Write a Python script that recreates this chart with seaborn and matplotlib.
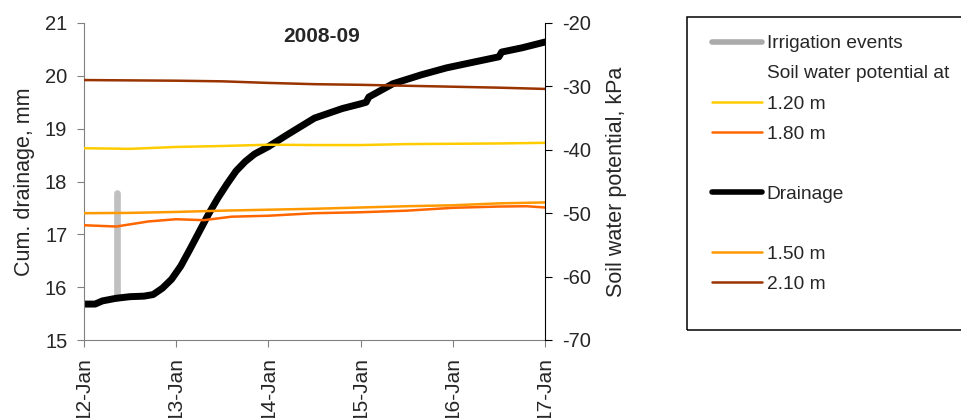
import pandas as pd
import seaborn as sns
import matplotlib.pyplot as plt
import matplotlib.dates as mdates
from matplotlib.lines import Line2D
from matplotlib.patches import Rectangle

start = pd.Timestamp("2009-01-12")

# cumulative drainage (mm), x in days after 12-Jan
drain_days = [0.0, 0.12, 0.2, 0.35, 0.5, 0.65, 0.75, 0.85, 0.95, 1.05, 1.15, 1.25,
              1.35, 1.45, 1.55, 1.65, 1.75, 1.85, 2.0, 2.2, 2.5, 2.8, 3.0, 3.06,
              3.09, 3.35, 3.66, 3.93, 4.2, 4.5, 4.53, 4.75, 5.0]
drain_mm = [15.68, 15.68, 15.74, 15.79, 15.82, 15.83, 15.86, 15.98, 16.15, 16.4, 16.72, 17.05,
            17.38, 17.68, 17.95, 18.2, 18.38, 18.52, 18.66, 18.88, 19.2, 19.38, 19.47, 19.5,
            19.6, 19.85, 20.02, 20.15, 20.25, 20.36, 20.45, 20.53, 20.64]

# irrigation event (drawn as a bar on the drainage axis)
irr_days = [0.36, 0.36]
irr_mm = [15.8, 17.78]

# soil water potential (kPa)
swp_days = [0.0, 0.5, 1.0, 1.5, 2.0, 2.5, 3.0, 3.5, 4.0, 4.5, 5.0]
swp_120 = [-39.75, -39.85, -39.55, -39.4, -39.2, -39.25, -39.25, -39.1, -39.05, -39.0, -38.9]
swp_150 = [-50.0, -49.95, -49.8, -49.6, -49.45, -49.3, -49.1, -48.9, -48.75, -48.45, -48.3]
swp_210 = [-29.0, -29.05, -29.1, -29.2, -29.45, -29.65, -29.75, -29.9, -30.05, -30.2, -30.4]
d180_days = [0.0, 0.35, 0.7, 1.0, 1.3, 1.6, 2.0, 2.5, 3.0, 3.5, 4.0, 4.5, 4.8, 5.0]
swp_180 = [-51.9, -52.1, -51.3, -50.95, -51.1, -50.55, -50.4, -50.0, -49.85, -49.6, -49.15,
           -48.95, -48.9, -49.1]

def to_dates(days):
    return start + pd.to_timedelta(days, unit="D")

sns.set_style("white")
plt.rcParams["font.family"] = ["Liberation Sans", "DejaVu Sans"]
plt.rcParams["axes.unicode_minus"] = False

fig = plt.figure(figsize=(9.62, 4.18), dpi=100)
ax = fig.add_axes([84/962, 1-340/418, (545-84)/962, (340-23)/418])
ax2 = ax.twinx()

sns.lineplot(x=to_dates(irr_days), y=irr_mm, ax=ax, color="#c0c0c0", lw=4.8,
             estimator=None, solid_capstyle="round")
sns.lineplot(x=to_dates(drain_days), y=drain_mm, ax=ax, color="black", lw=5)

sns.lineplot(x=to_dates(swp_days), y=swp_210, ax=ax2, color="#993300", lw=1.8)
sns.lineplot(x=to_dates(swp_days), y=swp_120, ax=ax2, color="#ffcc00", lw=1.8)
sns.lineplot(x=to_dates(swp_days), y=swp_150, ax=ax2, color="#ff9900", lw=1.8)
sns.lineplot(x=to_dates(d180_days), y=swp_180, ax=ax2, color="#ff6600", lw=1.8)

ax.set_xlim(start, start + pd.Timedelta(days=5))
ax.set_ylim(15, 21)
ax2.set_ylim(-70, -20)
ax.set_yticks(range(15, 22))
ax2.set_yticks(range(-70, -19, 10))
ax.xaxis.set_major_locator(mdates.DayLocator())
ax.xaxis.set_major_formatter(mdates.DateFormatter("%d-%b"))

for a in (ax, ax2):
    for s in a.spines.values():
        s.set_visible(False)
ax.spines["left"].set_visible(True)
ax.spines["bottom"].set_visible(True)
ax2.spines["right"].set_visible(True)
ax.spines["left"].set_color("#808080")
ax.spines["bottom"].set_color("#808080")
ax2.spines["right"].set_color("black")

ax.tick_params(axis="y", direction="out", length=5, pad=7, color="#808080", labelsize=14.5, left=True)
ax.tick_params(axis="x", direction="out", length=5, pad=7, color="#808080", labelsize=15,
               bottom=True, rotation=90)
ax2.tick_params(axis="y", direction="out", length=5, pad=7, color="black", labelsize=14.5, right=True)

ax.set_ylabel("Cum. drainage, mm", fontsize=15.5, labelpad=7)
ax2.set_ylabel("Soil water potential, kPa", fontsize=15.5, labelpad=11)
ax.set_xlabel("")
ax.text(0.516, 0.987, "2008-09", transform=ax.transAxes, ha="center", va="top",
        fontsize=15, fontweight="bold")

# legend box
fig.patches.append(Rectangle((687/962, 1-330/418), 0.3, 313/418, transform=fig.transFigure,
                             fill=False, edgecolor="black", lw=1.1))
blank = Line2D([], [], color="none")
handles = [Line2D([], [], color="#aaaaaa", lw=4), blank,
           Line2D([], [], color="#ffcc00", lw=1.8), Line2D([], [], color="#ff6600", lw=1.8),
           blank, Line2D([], [], color="black", lw=4),
           blank, Line2D([], [], color="#ff9900", lw=1.8), Line2D([], [], color="#993300", lw=1.8)]
labels = ["Irrigation events", "Soil water potential at", "1.20 m", "1.80 m", " ",
          "Drainage", " ", "1.50 m", "2.10 m"]
fig.legend(handles, labels, loc="upper left", bbox_to_anchor=(712/962, 1-35/418),
           frameon=False, fontsize=13.8, handlelength=2.6, handletextpad=0.26,
           labelspacing=0.66, borderpad=0, borderaxespad=0)

plt.savefig("out.png", dpi=100)
